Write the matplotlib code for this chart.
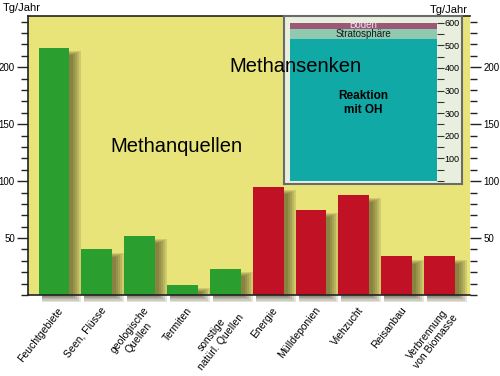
import matplotlib
matplotlib.use("Agg")
import matplotlib.pyplot as plt
from matplotlib.patches import Rectangle
from matplotlib.ticker import MultipleLocator, FixedLocator

plt.rcParams["font.family"] = ["Liberation Sans", "DejaVu Sans"]

# --- data -------------------------------------------------------------
sources = ["Feuchtgebiete", "Seen, Flüsse", "geologische\nQuellen", "Termiten",
           "sonstige\nnatürl. Quellen", "Energie", "Mülldeponien", "Viehzucht",
           "Reisanbau", "Verbrennung\nvon Biomasse"]
source_values = [217, 40, 52, 9, 23, 95, 75, 88, 34, 34]
source_natural = [True, True, True, True, True, False, False, False, False, False]

# inset (Methansenken), stacked from the bottom; units follow the inset axis
sinks = ["Reaktion\nmit OH", "Stratosphäre", "Boden"]
sink_values = [630, 40, 30]
sink_ticks = [100, 200, 300, 400, 500, 600, 700]
sink_ticklabels = ["100", "200", "300", "300", "400", "500", "600"]

GREEN = "#2b9e30"
RED = "#c01224"
YELLOW = "#e8e47a"

W, H = 500, 376
fig = plt.figure(figsize=(W / 100, H / 100), dpi=100)


def fx(px):
    return px / W


def fy(py):
    return 1 - py / H


# --- main axes --------------------------------------------------------
ax = fig.add_axes([fx(28), fy(295), fx(470) - fx(28), fy(16) - fy(295)])
ax.set_facecolor(YELLOW)
ax.set_xlim(-0.607, 9.71)
ax.set_ylim(0, 245)

bw = 0.72
px_x = 1 / 42.83   # one pixel in x data units
px_y = 50 / 57     # one pixel in y data units
for i, v in enumerate(source_values):
    # soft drop shadow, right of and below the bar
    x0 = i - bw / 2 + 3 * px_x
    for s in [9, 7, 5, 3, 1]:
        top = v - (8 - s * 0.5) * px_y
        bot = -(1 + s * 0.7) * px_y
        ax.add_patch(Rectangle((x0, bot), bw + s * px_x, top - bot,
                               facecolor="#3a3212", edgecolor="none", alpha=0.14,
                               zorder=1, clip_on=False))
    ax.bar(i, v, width=bw, color=GREEN if source_natural[i] else RED, zorder=3)

ax.yaxis.set_major_locator(FixedLocator([50, 100, 150, 200]))
ax.yaxis.set_minor_locator(MultipleLocator(10))
ax.tick_params(axis="y", which="both", left=True, right=True,
               labelleft=True, labelright=True, labelsize=7, color="#222222")
ax.tick_params(axis="y", which="major", length=8, width=1, pad=1.5)
ax.tick_params(axis="y", which="minor", length=5, width=1)
ax.set_xticks(range(len(sources)))
ax.set_xticklabels([])
ax.tick_params(axis="x", length=0)
for i, lab in enumerate(sources):
    ax.text(i + 0.08, -9, lab, rotation=52, ha="right", va="top",
            rotation_mode="anchor", multialignment="center", fontsize=7.5,
            transform=ax.transData, clip_on=False, zorder=4)

for sp in ["left", "bottom", "top"]:
    ax.spines[sp].set_color("#222222")
    ax.spines[sp].set_linewidth(1.2)
    ax.spines[sp].set_zorder(5)
ax.spines["right"].set_visible(False)

fig.text(fx(3), fy(8), "Tg/Jahr", fontsize=8, ha="left", va="center")
fig.text(fx(176.5), fy(147), "Methanquellen", fontsize=14.5, ha="center", va="center")
fig.text(fx(295), fy(67), "Methansenken", fontsize=14.5, ha="center", va="center")

# --- inset ------------------------------------------------------------
frame = fig.add_axes([fx(284), fy(184), fx(462) - fx(284), fy(16) - fy(184)])
frame.set_facecolor("#e9efdf")
frame.set_xticks([])
frame.set_yticks([])
for sp in frame.spines.values():
    sp.set_color("#6b6b6b")
    sp.set_linewidth(1.5)

iax = fig.add_axes([fx(290), fy(181), fx(437) - fx(290), fy(22.7) - fy(181)])
iax.set_facecolor("none")
iax.set_xlim(0, 1)
iax.set_ylim(0, 700)
sink_colors = ["#10a9a6", "#8ec9b0", "#9a5876"]
bottom = 0
for name, val, col in zip(sinks, sink_values, sink_colors):
    iax.bar(0.5, val, width=1, bottom=bottom, color=col, edgecolor="none")
    bottom += val
iax.yaxis.tick_right()
iax.yaxis.set_major_locator(FixedLocator(sink_ticks))
iax.set_yticklabels(sink_ticklabels)
iax.yaxis.set_minor_locator(MultipleLocator(50))
iax.tick_params(axis="y", which="both", labelsize=6.5, color="#333333", width=0.8)
iax.tick_params(axis="y", which="major", length=5, pad=0.5)
iax.tick_params(axis="y", which="minor", length=5)
iax.set_xticks([])
for sp in iax.spines.values():
    sp.set_visible(False)

iax.text(0.5, 345, sinks[0], ha="center", va="center", fontsize=8.5,
         fontweight="bold", linespacing=1.15)
iax.text(0.5, 650, sinks[1], ha="center", va="center", fontsize=7, color="#1a1a1a")
iax.text(0.5, 688, sinks[2], ha="center", va="center", fontsize=7, color="#f0e0ee")

fig.text(fx(449), fy(10), "Tg/Jahr", fontsize=8, ha="center", va="center")

fig.savefig("out.png", dpi=100)
